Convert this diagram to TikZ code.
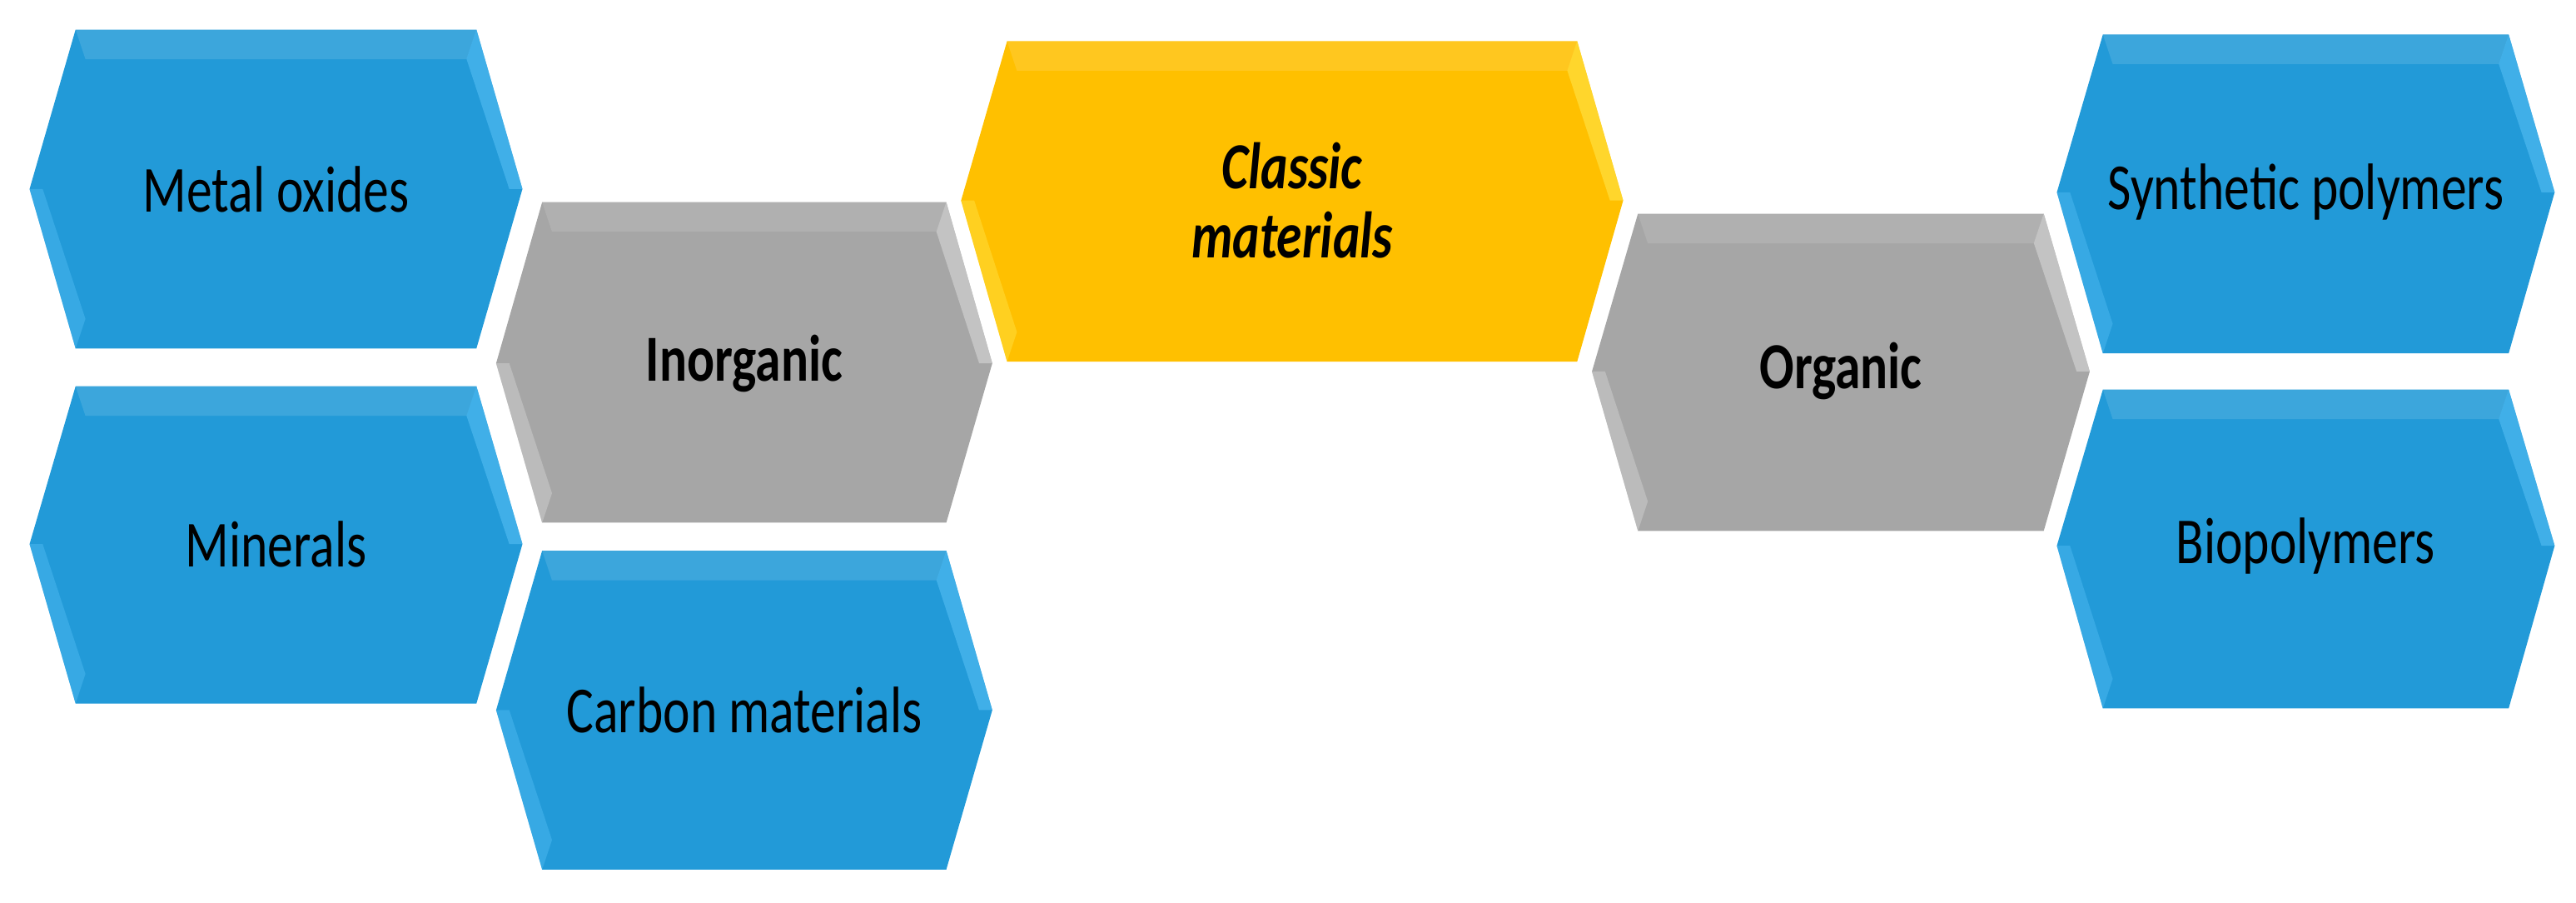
\documentclass[tikz,border=0pt]{standalone}
\usepackage{fontspec}
\setmainfont{Carlito}
\definecolor{hblue}{HTML}{229AD8}
\definecolor{hbluel}{HTML}{4DB8F0}
\definecolor{hgray}{HTML}{A6A6A6}
\definecolor{hgrayl}{HTML}{D0D0D0}
\definecolor{hyel}{HTML}{FFC000}
\definecolor{hyell}{HTML}{FFE040}
\newcommand{\hexa}[9]{%
% #1 name, #2 x1, #3 x2, #4 ytop, #5 ybot, #6 ymid, #7 colour, #8 light colour, #9 text
\fill[#7] (#2,#6) -- (#2+28,#4) -- (#3-28,#4) -- (#3,#6) -- (#3-28,#5) -- (#2+28,#5) -- cycle;
\fill[#8,opacity=0.7] (#3-28,#4) -- (#3,#6) -- (#3-8,#6) -- (#3-34,#4+18) -- cycle;
\fill[#8,opacity=0.5] (#2,#6) -- (#2+28,#5) -- (#2+34,#5-18) -- (#2+8,#6) -- cycle;
\fill[white,opacity=0.12] (#2+28,#4) -- (#3-28,#4) -- (#3-34,#4+18) -- (#2+34,#4+18) -- cycle;
\node[lbl] (#1) at ({(#2+#3)/2},#6) {#9};}
\tikzset{lbl/.style={xscale=0.78,font=\fontsize{40}{46}\selectfont,align=center,text=black}}
\begin{document}
\begin{tikzpicture}[x=1pt,y=-1pt]
\useasboundingbox (0,0) rectangle (1568,549);
\hexa{mo}{18}{318}{18}{212}{115}{hblue}{hbluel}{Metal oxides}
\hexa{mi}{18}{318}{235}{428}{331}{hblue}{hbluel}{Minerals}
\hexa{cm}{302}{604}{335}{529}{432}{hblue}{hbluel}{Carbon materials}
\hexa{in}{302}{604}{123}{318}{221}{hgray}{hgrayl}{\bfseries Inorganic}
\hexa{cl}{585}{988}{25}{220}{122}{hyel}{hyell}{\bfseries\itshape Classic\\[-4pt]\bfseries\itshape materials}
\hexa{or}{969}{1272}{130}{323}{226}{hgray}{hgrayl}{\bfseries Organic}
\hexa{sp}{1252}{1555}{21}{215}{117}{hblue}{hbluel}{Synthetic polymers}
\hexa{bp}{1252}{1555}{237}{431}{332}{hblue}{hbluel}{Biopolymers}
\end{tikzpicture}
\end{document}
